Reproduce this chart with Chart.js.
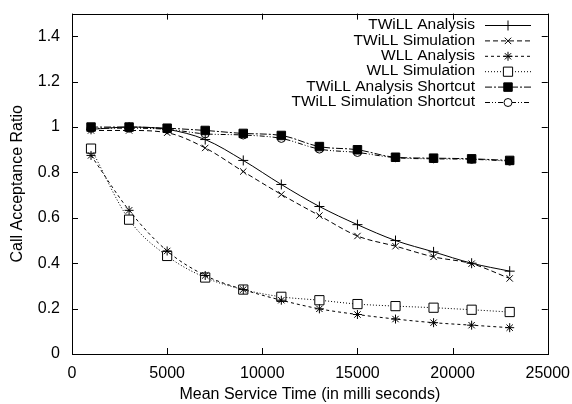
<!DOCTYPE html>
<html>
<head>
<meta charset="utf-8">
<script src="https://cdn.jsdelivr.net/npm/chart.js@4.4.1/dist/chart.umd.min.js"></script>
<style>
  body { margin: 0; background: #fff; }
  #chart { display: block; }
</style>
</head>
<body>
<canvas id="chart" width="572" height="404"></canvas>
<script>
// mean service time (ms)
const serviceTime = [1000, 3000, 5000, 7000, 9000, 11000, 13000, 15000, 17000, 19000, 21000, 23000];

const twillAnalysis = [0.99, 1.0, 0.99, 0.945, 0.853, 0.747, 0.65, 0.57, 0.50, 0.45, 0.40, 0.365];
const twillSimulation = [0.985, 0.985, 0.975, 0.908, 0.804, 0.703, 0.61, 0.52, 0.475, 0.428, 0.398, 0.333];
const wllAnalysis = [0.875, 0.633, 0.454, 0.346, 0.284, 0.237, 0.199, 0.174, 0.154, 0.138, 0.127, 0.116];
const wllSimulation = [0.905, 0.592, 0.432, 0.337, 0.284, 0.252, 0.237, 0.22, 0.211, 0.204, 0.195, 0.185];
const twillAnalysisShortcut = [1.0, 1.0, 0.995, 0.985, 0.972, 0.963, 0.914, 0.90, 0.867, 0.863, 0.86, 0.853];
const twillSimulationShortcut = [0.995, 0.995, 0.99, 0.97, 0.965, 0.95, 0.903, 0.888, 0.865, 0.86, 0.858, 0.85];

const xTicks = [0, 5000, 10000, 15000, 20000, 25000];
const yTicks = [0, 0.2, 0.4, 0.6, 0.8, 1, 1.2, 1.4];

const FONT = 'Liberation Sans, Arial, Helvetica, sans-serif';

const toPoints = (vals) => vals.map((v, i) => ({ x: serviceTime[i], y: v }));

const series = (label, vals, dash, style, radius, fill) => ({
  label: label,
  data: toPoints(vals),
  borderColor: '#000',
  borderWidth: 1,
  borderDash: dash,
  pointStyle: style,
  pointRadius: radius,
  pointBorderColor: '#000',
  pointBorderWidth: 1,
  pointBackgroundColor: fill,
  cubicInterpolationMode: 'monotone',
  fill: false,
});

// gnuplot style frame: box + inward ticks on all four sides
const frame = {
  id: 'frame',
  afterDatasetsDraw(chart) {
    const { ctx, chartArea: a, scales } = chart;
    ctx.save();
    ctx.strokeStyle = '#000';
    ctx.lineWidth = 1;
    ctx.setLineDash([]);
    ctx.strokeRect(Math.round(a.left) + 0.5, Math.round(a.top) + 0.5,
      Math.round(a.right - a.left), Math.round(a.bottom - a.top));
    const len = 6;
    ctx.beginPath();
    xTicks.forEach((t) => {
      const px = Math.round(scales.x.getPixelForValue(t)) + 0.5;
      ctx.moveTo(px, a.bottom); ctx.lineTo(px, a.bottom - len);
      ctx.moveTo(px, a.top); ctx.lineTo(px, a.top + len);
    });
    yTicks.forEach((t) => {
      const py = Math.round(scales.y.getPixelForValue(t)) + 0.5;
      ctx.moveTo(a.left, py); ctx.lineTo(a.left + len, py);
      ctx.moveTo(a.right, py); ctx.lineTo(a.right - len, py);
    });
    ctx.stroke();
    ctx.restore();
  },
};

// key inside the top right, text right aligned then line sample
const key = {
  id: 'key',
  afterDraw(chart) {
    const { ctx } = chart;
    const textRight = 475;
    const lineLeft = 485, lineRight = 531;
    let y = 25;
    ctx.save();
    ctx.font = '15.5px ' + FONT;
    ctx.textAlign = 'right';
    ctx.textBaseline = 'middle';
    chart.data.datasets.forEach((ds) => {
      ctx.fillStyle = '#000';
      ctx.fillText(ds.label, textRight, y);
      ctx.strokeStyle = '#000';
      ctx.lineWidth = 1;
      ctx.setLineDash(ds.borderDash);
      ctx.beginPath();
      ctx.moveTo(lineLeft, y + 0.5);
      ctx.lineTo(lineRight, y + 0.5);
      ctx.stroke();
      ctx.setLineDash([]);
      ctx.fillStyle = ds.pointBackgroundColor;
      Chart.helpers.drawPoint(ctx, {
        pointStyle: ds.pointStyle,
        radius: ds.pointRadius,
        rotation: 0,
        borderWidth: 1,
      }, (lineLeft + lineRight) / 2, y + 0.5);
      y += 15.4;
    });
    ctx.restore();
  },
};

new Chart(document.getElementById('chart'), {
  type: 'line',
  data: {
    datasets: [
      series('TWiLL Analysis', twillAnalysis, [], 'cross', 5, '#fff'),
      series('TWiLL Simulation', twillSimulation, [5, 3], 'crossRot', 4.5, '#fff'),
      series('WLL Analysis', wllAnalysis, [3, 3], 'star', 4.5, '#fff'),
      series('WLL Simulation', wllSimulation, [1, 2], 'rect', 6.5, '#fff'),
      series('TWiLL Analysis Shortcut', twillAnalysisShortcut, [7, 2, 2, 2], 'rect', 6, '#000'),
      series('TWiLL Simulation Shortcut', twillSimulationShortcut, [5, 2, 1, 2, 1, 2], 'circle', 4, '#fff'),
    ],
  },
  options: {
    responsive: false,
    animation: false,
    layout: { padding: { left: 0, top: 11, right: 23, bottom: 0 } },
    plugins: { legend: { display: false }, tooltip: { enabled: false } },
    scales: {
      x: {
        type: 'linear',
        min: 0,
        max: 25000,
        grid: { display: false },
        border: { display: false },
        afterBuildTicks: (s) => { s.ticks = xTicks.map((v) => ({ value: v })); },
        afterFit: (s) => { s.height = 50; },
        ticks: {
          color: '#000',
          font: { family: FONT, size: 16 },
          padding: 2,
          maxRotation: 0,
          callback: (v) => String(v),
        },
        title: {
          display: true,
          text: 'Mean Service Time (in milli seconds)',
          color: '#000',
          font: { family: FONT, size: 16 },
          padding: { top: 0, bottom: 0 },
        },
      },
      y: {
        min: 0,
        max: 1.5,
        grid: { display: false },
        border: { display: false },
        afterBuildTicks: (s) => { s.ticks = yTicks.map((v) => ({ value: v })); },
        afterFit: (s) => { s.width = 72; },
        ticks: {
          color: '#000',
          font: { family: FONT, size: 16 },
          padding: 4,
          callback: (v) => String(Number(v.toFixed(1))),
        },
        title: {
          display: true,
          text: 'Call Acceptance Ratio',
          color: '#000',
          font: { family: FONT, size: 16 },
          padding: { top: 8, bottom: 0 },
        },
      },
    },
  },
  plugins: [frame, key],
});
</script>
</body>
</html>
